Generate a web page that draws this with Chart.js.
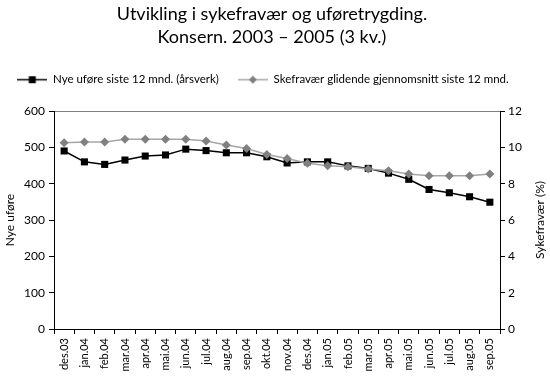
<!DOCTYPE html>
<html><head><meta charset="utf-8">
<script src="https://cdn.jsdelivr.net/npm/chart.js@4"></script>
<style>html,body{margin:0;padding:0;background:#fff}#wrap{width:550px;height:376px}</style>
</head><body><div id="wrap"><canvas id="c" width="550" height="376"></canvas></div>
<script>
const categories = ["des.03","jan.04","feb.04","mar.04","apr.04","mai.04","jun.04","jul.04","aug.04","sep.04","okt.04","nov.04","des.04","jan.05","feb.05","mar.05","apr.05","mai.05","jun.05","jul.05","aug.05","sep.05"];
const nyeUfore = [490,460,453,465,476,479,495,491,485,485,474,457,460,460,449,442,429,412,384,375,364,349];
const sykefravar = [10.25,10.3,10.3,10.45,10.45,10.45,10.45,10.35,10.13,9.94,9.61,9.39,9.12,8.98,8.93,8.81,8.71,8.53,8.44,8.44,8.44,8.53];
const leftTicks = [0,100,200,300,400,500,600];
const rightTicks = [0,2,4,6,8,10,12];
const titleLines = ["Utvikling i sykefravær og uføretrygding.", "Konsern. 2003 – 2005 (3 kv.)"];
const seriesNames = ["Nye uføre siste 12 mnd. (årsverk)", "Skefravær glidende gjennomsnitt siste 12 mnd."];
const leftTitle = "Nye uføre";
const rightTitle = "Sykefravær (%)";

const FONT = "Lato";

function makeMarker(lineColor, pointColor, shape) {
  const c = document.createElement('canvas');
  c.width = 30; c.height = 9;
  const g = c.getContext('2d');
  g.strokeStyle = lineColor; g.lineWidth = 1.5;
  g.beginPath(); g.moveTo(0, 4.5); g.lineTo(30, 4.5); g.stroke();
  g.fillStyle = pointColor;
  if (shape === 'rect') {
    g.fillRect(11.5, 1, 7, 7);
  } else {
    g.beginPath(); g.moveTo(15, 0.5); g.lineTo(19, 4.5); g.lineTo(15, 8.5); g.lineTo(11, 4.5); g.closePath(); g.fill();
  }
  return c;
}
const markers = [makeMarker('#000', '#000', 'rect'), makeMarker('#a6a6a6', '#808080', 'diamond')];

function shiftDraw(chart, box, dx) {
  const d = box.draw.bind(box);
  box.draw = function (a) { const ctx = chart.ctx; ctx.save(); ctx.translate(dx, 0); d(a); ctx.restore(); };
}

const tweak = {
  id: 'tweak',
  afterInit(chart) {
    const lg = chart.legend;
    const f = lg.fit.bind(lg);
    lg.fit = function () { f(); this.height = 56; };
    shiftDraw(chart, lg, -12);
    if (chart.titleBlock) shiftDraw(chart, chart.titleBlock, -3);
  },
  afterDraw(chart) {
    const ctx = chart.ctx, ca = chart.chartArea;
    ctx.save();
    ctx.translate(540, (ca.top + ca.bottom) / 2);
    ctx.rotate(-Math.PI / 2);
    ctx.font = "12px " + FONT;
    ctx.fillStyle = '#000';
    ctx.textAlign = 'center'; ctx.textBaseline = 'middle';
    ctx.fillText(rightTitle, 0, 0);
    ctx.restore();
  }
};

new Chart(document.getElementById('c'), {
  type: 'line',
  data: {
    labels: categories,
    datasets: [
      { label: seriesNames[0], data: nyeUfore, yAxisID: 'y', order: 1,
        borderColor: '#000', borderWidth: 1.5, tension: 0,
        pointStyle: 'rect', pointRadius: 5, pointBackgroundColor: '#000', pointBorderColor: '#000', pointBorderWidth: 0 },
      { label: seriesNames[1], data: sykefravar, yAxisID: 'y1', order: 0,
        borderColor: '#a6a6a6', borderWidth: 1.5, tension: 0,
        pointStyle: 'rectRot', pointRadius: 4.5, pointBackgroundColor: '#808080', pointBorderColor: '#808080', pointBorderWidth: 0 }
    ]
  },
  options: {
    responsive: false, animation: false,
    layout: { padding: { left: 0, right: 0, top: 0, bottom: 0 } },
    plugins: {
      title: { display: true, text: titleLines, color: '#000',
        font: { family: FONT, size: 18, weight: 'normal', lineHeight: 23/18 },
        padding: { top: 3, bottom: 6 } },
      legend: { display: true, position: 'top', align: 'center',
        labels: { usePointStyle: true, pointStyleWidth: 30, padding: 19, color: '#000',
          font: { family: FONT, size: 11.5 },
          generateLabels(chart) {
            return chart.data.datasets.map((ds, i) => ({ text: ds.label, pointStyle: markers[i], fillStyle: '#000', strokeStyle: '#000', lineWidth: 0, hidden: false, datasetIndex: i, fontColor: '#000' }));
          } } },
      tooltip: { enabled: false }
    },
    scales: {
      x: { type: 'category', offset: true,
        grid: { offset: true, drawOnChartArea: false, tickLength: 5, tickColor: '#000', color: '#000' },
        border: { display: true, color: '#000', width: 1 },
        ticks: { color: '#000', maxRotation: 90, minRotation: 90, padding: 4, autoSkip: false, font: { family: FONT, size: 11 } },
        afterFit(s) { s.height = 47; } },
      y: { position: 'left', min: 0, max: 600,
        afterBuildTicks(s) { s.ticks = leftTicks.map(v => ({ value: v })); },
        grid: { drawOnChartArea: true, color: ctx => (ctx.tick && ctx.tick.value === 600) ? '#808080' : 'rgba(0,0,0,0)', tickColor: '#000', tickLength: 5 },
        border: { display: true, color: '#000', width: 1 },
        ticks: { color: '#000', padding: 4, font: { family: FONT, size: 12 } },
        title: { display: true, text: leftTitle, color: '#000', font: { family: FONT, size: 12 }, padding: { top: 3, bottom: 0 } },
        afterFit(s) { s.width = 54; } },
      y1: { position: 'right', min: 0, max: 12,
        afterBuildTicks(s) { s.ticks = rightTicks.map(v => ({ value: v })); },
        grid: { drawOnChartArea: false, tickColor: '#000', tickLength: 5 },
        border: { display: true, color: '#000', width: 1 },
        ticks: { color: '#000', padding: 3, font: { family: FONT, size: 12 } },
        afterFit(s) { s.width = 50; } }
    }
  },
  plugins: [tweak]
});
</script>
</body></html>
